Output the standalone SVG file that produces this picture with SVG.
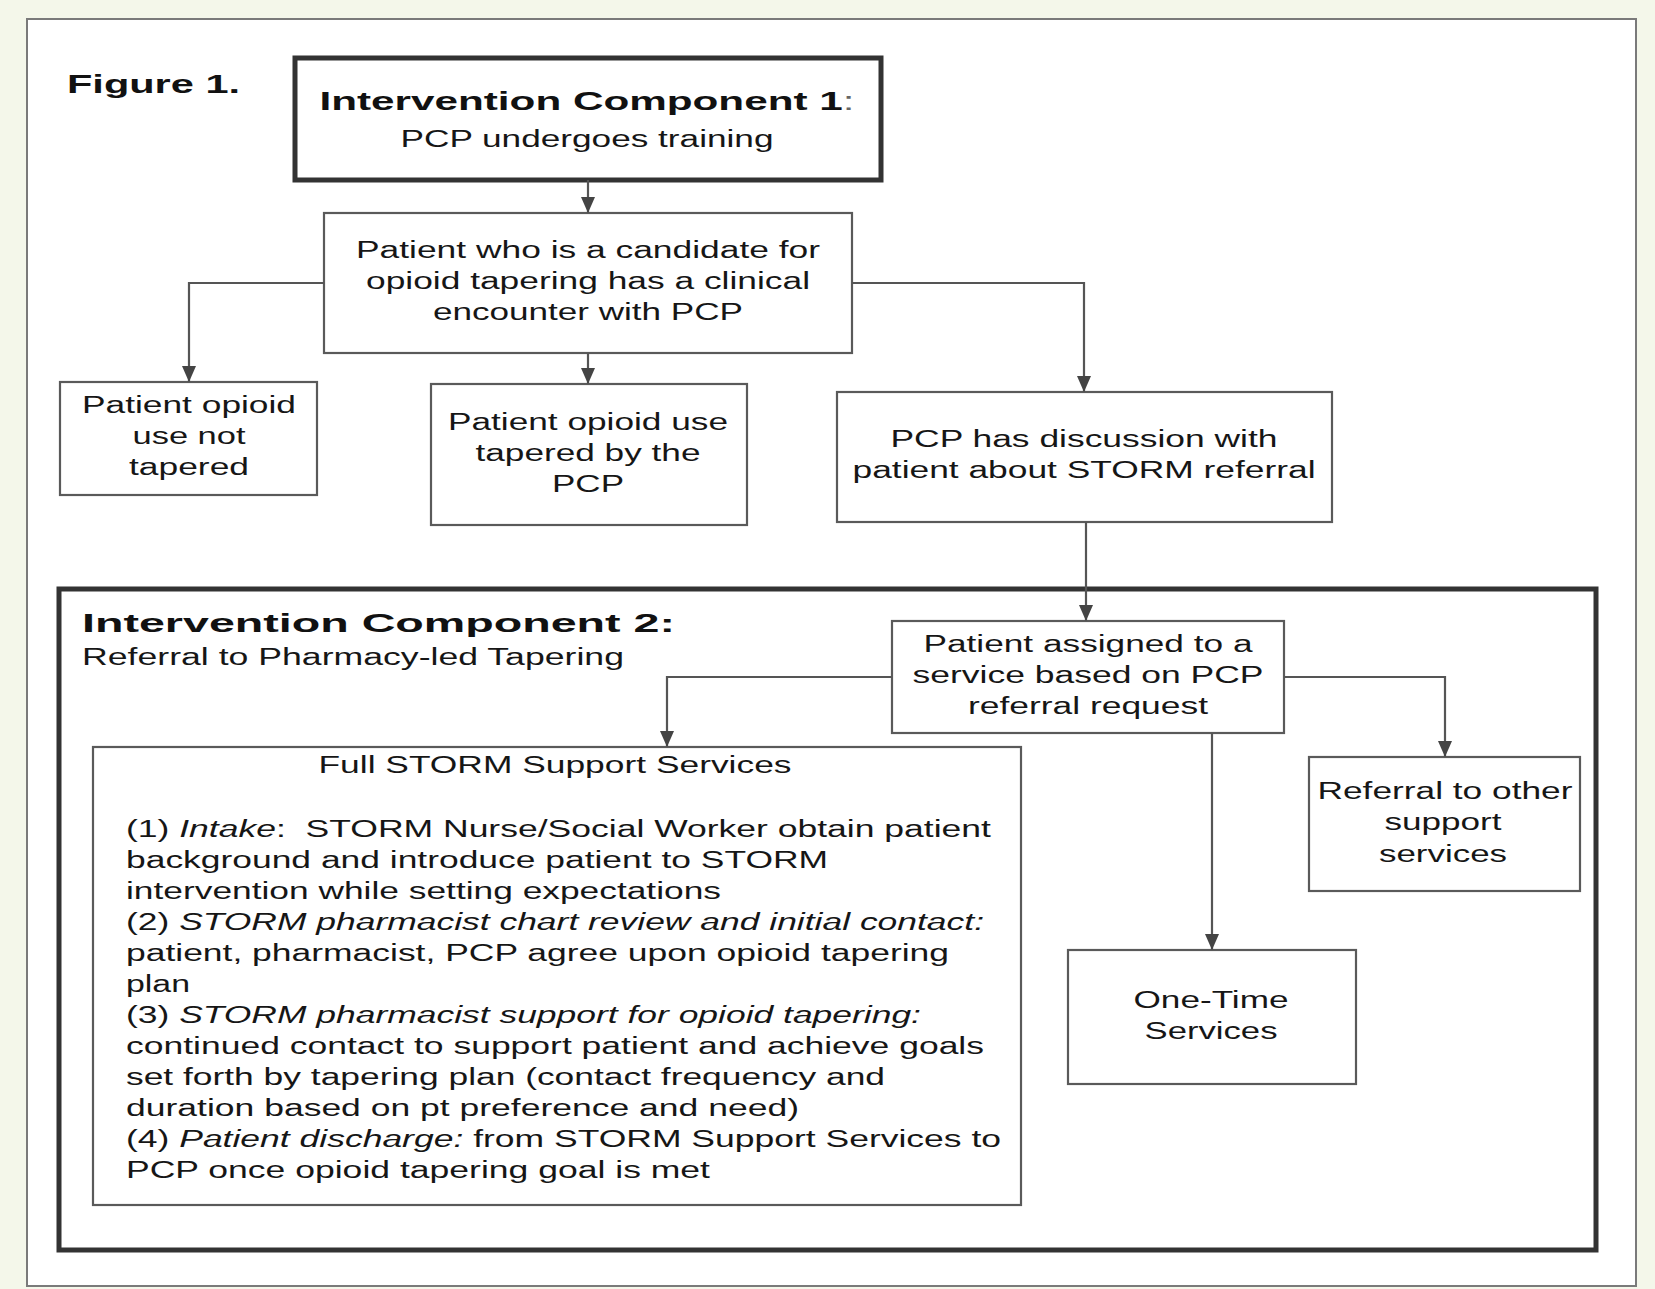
<svg xmlns="http://www.w3.org/2000/svg" width="1655" height="1289" viewBox="0 0 1655 1289">
<defs>
<style>
.t{font-family:"Liberation Sans",Arial,sans-serif;font-size:23px;fill:#161616;}
.b{font-family:"Liberation Sans",Arial,sans-serif;font-size:25px;font-weight:bold;fill:#111;}
.c{text-anchor:middle;}
.box{fill:#fff;stroke:#5a5a5a;stroke-width:2.2;}
.thick{fill:#fff;stroke:#333;stroke-width:5;}
.con{fill:none;stroke:#555;stroke-width:2.2;}
</style>
<marker id="ah" markerUnits="userSpaceOnUse" markerWidth="16" markerHeight="16" viewBox="0 0 16 16" refX="16" refY="8" orient="auto">
<path d="M0,1 L16,8 L0,15 Z" fill="#444"/>
</marker>
</defs>
<rect x="0" y="0" width="1655" height="1289" fill="#f4f7ea"/>
<rect x="27" y="19" width="1609" height="1267" fill="#fff" stroke="#7a7a7a" stroke-width="2"/>
<text class="b" x="67" y="93" textLength="173" lengthAdjust="spacingAndGlyphs" font-size="24">Figure 1.</text>

<g id="ic2">
<rect x="61" y="591" width="1537" height="661" fill="#aaa"/>
<rect class="thick" x="59" y="589" width="1537" height="661"/>
<text class="b" x="82" y="632" textLength="593" lengthAdjust="spacingAndGlyphs">Intervention Component 2:</text>
<text class="t" x="82" y="665" textLength="542" lengthAdjust="spacingAndGlyphs">Referral to Pharmacy-led Tapering</text>
</g>

<g id="ic1">
<rect class="thick" x="295" y="58" width="586" height="122"/>
<text class="b c" x="587" y="110" textLength="535" lengthAdjust="spacingAndGlyphs">Intervention Component 1<tspan font-weight="normal" fill="#666">:</tspan></text>
<text class="t c" x="587" y="147" textLength="373" lengthAdjust="spacingAndGlyphs">PCP undergoes training</text>
</g>

<g id="candidate">
<rect class="box" x="324" y="213" width="528" height="140"/>
<text class="t c" x="588" y="258" textLength="464" lengthAdjust="spacingAndGlyphs">Patient who is a candidate for</text>
<text class="t c" x="588" y="289" textLength="444" lengthAdjust="spacingAndGlyphs">opioid tapering has a clinical</text>
<text class="t c" x="588" y="320" textLength="310" lengthAdjust="spacingAndGlyphs">encounter with PCP</text>
</g>

<g id="not-tapered">
<rect class="box" x="60" y="382" width="257" height="113"/>
<text class="t c" x="189" y="413" textLength="214" lengthAdjust="spacingAndGlyphs">Patient opioid</text>
<text class="t c" x="189" y="444" textLength="113" lengthAdjust="spacingAndGlyphs">use not</text>
<text class="t c" x="189" y="475" textLength="120" lengthAdjust="spacingAndGlyphs">tapered</text>
</g>

<g id="tapered-pcp">
<rect class="box" x="431" y="384" width="316" height="141"/>
<text class="t c" x="588" y="430" textLength="280" lengthAdjust="spacingAndGlyphs">Patient opioid use</text>
<text class="t c" x="588" y="461" textLength="225" lengthAdjust="spacingAndGlyphs">tapered by the</text>
<text class="t c" x="588" y="492" textLength="72" lengthAdjust="spacingAndGlyphs">PCP</text>
</g>

<g id="discussion">
<rect class="box" x="837" y="392" width="495" height="130"/>
<text class="t c" x="1084" y="447" textLength="387" lengthAdjust="spacingAndGlyphs">PCP has discussion with</text>
<text class="t c" x="1084" y="478" textLength="463" lengthAdjust="spacingAndGlyphs">patient about STORM referral</text>
</g>

<g id="assigned">
<rect class="box" x="892" y="621" width="392" height="112"/>
<text class="t c" x="1088" y="652" textLength="329" lengthAdjust="spacingAndGlyphs">Patient assigned to a</text>
<text class="t c" x="1088" y="683" textLength="351" lengthAdjust="spacingAndGlyphs">service based on PCP</text>
<text class="t c" x="1088" y="714" textLength="240" lengthAdjust="spacingAndGlyphs">referral request</text>
</g>

<g id="full-storm">
<rect class="box" x="93" y="747" width="928" height="458"/>
<text class="t c" x="555" y="773" textLength="473" lengthAdjust="spacingAndGlyphs">Full STORM Support Services</text>
<text class="t" x="126" y="837" textLength="865" lengthAdjust="spacingAndGlyphs">(1) <tspan font-style="italic">Intake</tspan>: &#160;STORM Nurse/Social Worker obtain patient</text>
<text class="t" x="126" y="868" textLength="702" lengthAdjust="spacingAndGlyphs">background and introduce patient to STORM</text>
<text class="t" x="126" y="899" textLength="595" lengthAdjust="spacingAndGlyphs">intervention while setting expectations</text>
<text class="t" x="126" y="930" textLength="858" lengthAdjust="spacingAndGlyphs">(2) <tspan font-style="italic">STORM pharmacist chart review and initial contact:</tspan></text>
<text class="t" x="126" y="961" textLength="823" lengthAdjust="spacingAndGlyphs">patient, pharmacist, PCP agree upon opioid tapering</text>
<text class="t" x="126" y="992" textLength="64" lengthAdjust="spacingAndGlyphs">plan</text>
<text class="t" x="126" y="1023" textLength="795" lengthAdjust="spacingAndGlyphs">(3) <tspan font-style="italic">STORM pharmacist support for opioid tapering:</tspan></text>
<text class="t" x="126" y="1054" textLength="858" lengthAdjust="spacingAndGlyphs">continued contact to support patient and achieve goals</text>
<text class="t" x="126" y="1085" textLength="759" lengthAdjust="spacingAndGlyphs">set forth by tapering plan (contact frequency and</text>
<text class="t" x="126" y="1116" textLength="673" lengthAdjust="spacingAndGlyphs">duration based on pt preference and need)</text>
<text class="t" x="126" y="1147" textLength="875" lengthAdjust="spacingAndGlyphs">(4) <tspan font-style="italic">Patient discharge:</tspan> from STORM Support Services to</text>
<text class="t" x="126" y="1178" textLength="584" lengthAdjust="spacingAndGlyphs">PCP once opioid tapering goal is met</text>
</g>

<g id="referral-other">
<rect class="box" x="1309" y="757" width="271" height="134"/>
<text class="t c" x="1445" y="799" textLength="255" lengthAdjust="spacingAndGlyphs">Referral to other</text>
<text class="t c" x="1443" y="830" textLength="117" lengthAdjust="spacingAndGlyphs">support</text>
<text class="t c" x="1443" y="862" textLength="128" lengthAdjust="spacingAndGlyphs">services</text>
</g>

<g id="one-time">
<rect class="box" x="1068" y="950" width="288" height="134"/>
<text class="t c" x="1211" y="1008" textLength="155" lengthAdjust="spacingAndGlyphs">One-Time</text>
<text class="t c" x="1211" y="1039" textLength="133" lengthAdjust="spacingAndGlyphs">Services</text>
</g>

<g id="connectors">
<path class="con" d="M588,180 V213" marker-end="url(#ah)"/>
<path class="con" d="M324,283 H189 V382" marker-end="url(#ah)"/>
<path class="con" d="M588,353 V384" marker-end="url(#ah)"/>
<path class="con" d="M852,283 H1084 V392" marker-end="url(#ah)"/>
<path class="con" d="M1086,522 V621" marker-end="url(#ah)"/>
<path class="con" d="M892,677 H667 V747" marker-end="url(#ah)"/>
<path class="con" d="M1212,733 V950" marker-end="url(#ah)"/>
<path class="con" d="M1284,677 H1445 V757" marker-end="url(#ah)"/>
</g>
</svg>
